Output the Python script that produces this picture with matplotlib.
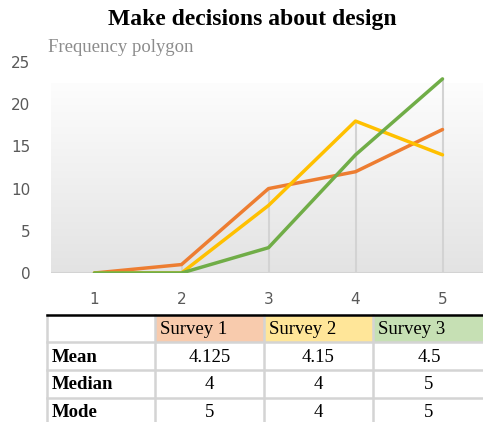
import matplotlib
matplotlib.use("Agg")
import matplotlib.pyplot as plt
import numpy as np
from matplotlib.colors import LinearSegmentedColormap
from matplotlib.patches import Rectangle

# ---- data ----
categories = [1, 2, 3, 4, 5]
survey1 = [0, 1, 10, 12, 17]
survey2 = [0, 0, 8, 18, 14]
survey3 = [0, 0, 3, 14, 23]
series_names = ["Survey 1", "Survey 2", "Survey 3"]
y_ticks = [0, 5, 10, 15, 20, 25]
row_labels = ["Mean", "Median", "Mode"]
table_values = [["4.125", "4.15", "4.5"],
                ["4", "4", "5"],
                ["5", "4", "5"]]

line_colors = ["#ed7d31", "#ffc000", "#70ad47"]
header_colors = ["#f8cbad", "#ffe699", "#c6e0b4"]

W, H = 483, 422
fig = plt.figure(figsize=(W / 100, H / 100), dpi=100)

# ---- chart axes ----
x0, x1 = 51, 486
yb, yt = 273, 62
ax = fig.add_axes([x0 / W, (H - yb) / H, (x1 - x0) / W, (yb - yt) / H])
ax.set_xlim(0.5, 5.5)
ax.set_ylim(0, 25)
ax.patch.set_alpha(0)

# gradient background
cmap = LinearSegmentedColormap.from_list("g", ["#e3e3e3", "#fdfdfd"])
grad = np.linspace(0, 1, 256).reshape(-1, 1)
ax.imshow(grad, cmap=cmap, aspect="auto", origin="lower",
          extent=[0, 1, 0, (yb - 83) / (yb - yt)], transform=ax.transAxes, zorder=0)

# drop lines
all_series = [survey1, survey2, survey3]
maxvals = [max(v) for v in zip(*all_series)]
ax.vlines(categories, 0, maxvals, colors="#d3d3d3", linewidth=1.5, zorder=1)

# baseline
ax.axhline(0, color="#d3d3d3", linewidth=1.5, zorder=1)

for vals, c in zip(all_series, line_colors):
    ax.plot(categories, vals, color=c, linewidth=2.5, solid_joinstyle="round",
            solid_capstyle="round", zorder=3)

for s in ax.spines.values():
    s.set_visible(False)
ax.set_xticks(categories)
ax.set_yticks(y_ticks)
ax.tick_params(length=0, labelsize=11, labelcolor="#595959")
ax.tick_params(axis="y", pad=15)
ax.tick_params(axis="x", pad=14)

# titles
fig.text(252 / W, 1 - 20 / H, "Make decisions about design", ha="center", va="center",
         family="Liberation Serif", fontweight="bold", fontsize=17, color="black")
fig.text(48 / W, 1 - 47 / H, "Frequency polygon", ha="left", va="center",
         family="Liberation Serif", fontsize=13.5, color="#8c8c8c")

# ---- table ----
tax = fig.add_axes([0, 0, 1, 1])
tax.set_xlim(0, W)
tax.set_ylim(H, 0)
tax.axis("off")
tax.patch.set_alpha(0)

cols = [46.5, 155, 264, 373, 490]
rows = [315, 342.3, 370, 397.7, 425.4]

for j, (name, hc) in enumerate(zip(series_names, header_colors)):
    tax.add_patch(Rectangle((cols[j + 1], rows[0]), cols[j + 2] - cols[j + 1], rows[1] - rows[0],
                            facecolor=hc, edgecolor="none", zorder=1))
    tax.text(cols[j + 1] + 5, (rows[0] + rows[1]) / 2 + 1, name, ha="left", va="center",
             family="Liberation Serif", fontsize=13.5, color="black", zorder=3)

grid_c = "#d4d4d4"
for yv in rows[1:]:
    tax.plot([cols[0], cols[-1]], [yv, yv], color=grid_c, linewidth=1.8, zorder=2)
for xv in cols[:-1]:
    tax.plot([xv, xv], [rows[0], rows[-1]], color=grid_c, linewidth=1.8, zorder=2)
tax.plot([cols[0], cols[-1]], [rows[0], rows[0]], color="black", linewidth=1.8, zorder=4)

for i, (lab, vals) in enumerate(zip(row_labels, table_values)):
    yc = (rows[i + 1] + rows[i + 2]) / 2 + 1
    tax.text(cols[0] + 5, yc, lab, ha="left", va="center", family="Liberation Serif",
             fontweight="bold", fontsize=13.5, color="black", zorder=3)
    for j, v in enumerate(vals):
        xc = (cols[j + 1] + min(cols[j + 2], W + 2)) / 2
        tax.text(xc, yc, v, ha="center", va="center", family="Liberation Serif",
                 fontsize=13.5, color="black", zorder=3)

fig.savefig("out.png", dpi=100)
